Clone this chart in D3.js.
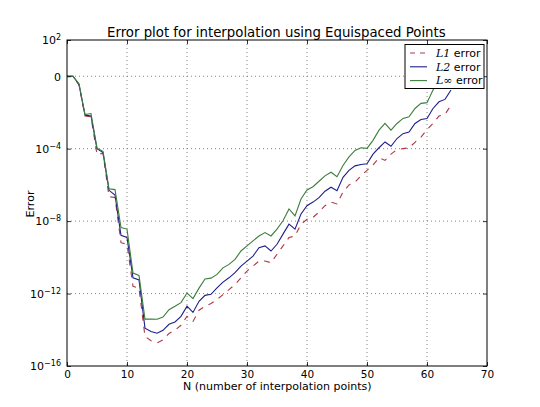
<!DOCTYPE html>
<html>
<head>
<meta charset="utf-8">
<script src="https://cdn.jsdelivr.net/npm/d3@7"></script>
<style>
  body { margin: 0; background: #fff; }
  text { font-family: "DejaVu Sans", sans-serif; }
</style>
</head>
<body>
<svg id="chart"></svg>
<script>
// N values, and log10 of each error
var nPoints = d3.range(0, 65);

var l1Log = [0, 0, -0.48, -2.2, -2.24, -4.33, -4.25, -6.65, -6.7, -9.19,
  -9.28, -11.6, -11.7, -14.37, -14.6, -14.72, -14.56, -14.2, -14.02, -13.75,
  -13.26, -13.54, -12.92, -12.7, -12.55, -12.33, -12.06, -11.78, -11.5, -11.13,
  -10.76, -10.48, -10.21, -10.2, -10.3, -9.83, -9.37, -8.91, -8.82, -8.17,
  -7.9, -7.8, -7.5, -7.15, -6.95, -7.05, -6.4, -6.0, -5.85, -5.5,
  -5.2, -4.9, -4.5, -4.65, -4.3, -4.05, -4.0, -3.95, -3.65, -3.36,
  -2.95, -2.6, -2.2, -2.1, -1.6];

var l2Log = [0, 0, -0.45, -2.15, -2.19, -4.0, -4.22, -6.3, -6.56, -8.78,
  -8.9, -11.13, -11.25, -13.91, -14.09, -14.19, -14.03, -13.7, -13.57, -13.26,
  -12.7, -13.04, -12.43, -12.1, -12.04, -11.69, -11.37, -11.13, -10.85, -10.48,
  -10.21, -9.93, -9.47, -9.37, -9.65, -9.28, -8.72, -8.17, -8.44, -7.61,
  -7.15, -6.95, -6.7, -6.35, -6.13, -6.32, -5.58, -5.2, -4.95, -4.87,
  -4.83, -4.3, -3.95, -3.63, -3.87, -3.44, -3.17, -3.08, -2.61, -2.39,
  -2.33, -1.78, -1.41, -1.28, -0.76];

var linfLog = [0, 0, -0.42, -2.12, -2.06, -3.97, -4.15, -6.22, -6.26, -8.36,
  -8.44, -10.87, -11.0, -13.41, -13.41, -13.42, -13.3, -12.89, -12.7, -12.5,
  -11.97, -12.28, -11.7, -11.2, -11.15, -10.94, -10.58, -10.39, -10.11, -9.65,
  -9.37, -9.09, -8.82, -8.63, -8.82, -8.44, -7.98, -7.33, -7.71, -6.78,
  -6.28, -6.1, -5.8, -5.5, -5.3, -5.55, -4.93, -4.45, -4.1, -3.95,
  -3.98, -3.54, -2.98, -2.6, -2.98, -2.61, -2.33, -2.24, -1.78, -1.5,
  -1.46, -0.76, -0.3, 0.05, 0.5];

var xTicks = [0, 10, 20, 30, 40, 50, 60, 70];
var yTicks = [1e2, 1e0, 1e-4, 1e-8, 1e-12, 1e-16];
var yTickLabels = [["10", "2"], ["0", ""], ["10", "\u22124"], ["10", "\u22128"], ["10", "\u221212"], ["10", "\u221216"]];

var seriesNames = ["1", "2", "\u221e"];
var seriesColors = ["#b03848", "#1f1f8a", "#3d7d3d"];

/* size of the picture and of the axes box */
var svgWidth = 540, svgHeight = 407;
var margin = {top: 40, right: 53, bottom: 41, left: 67};
var width = svgWidth - margin.left - margin.right;
var height = svgHeight - margin.top - margin.bottom;

var svg = d3.select("#chart")
    .attr("width", svgWidth)
    .attr("height", svgHeight);

var g = svg.append("g")
    .attr("transform", "translate(" + margin.left + "," + margin.top + ")");

var x = d3.scaleLinear().domain([0, 70]).range([0, width]);
var y = d3.scaleLog().domain([1e-16, 1e2]).range([height, 0]);

// dotted grid
g.selectAll(".vgrid")
    .data(xTicks.slice(1, -1))
    .enter()
    .append("line")
    .attr("x1", function(d) { return x(d); })
    .attr("x2", function(d) { return x(d); })
    .attr("y1", 0)
    .attr("y2", height)
    .attr("stroke", "#666")
    .attr("stroke-width", 0.8)
    .attr("stroke-dasharray", "1,3");

g.selectAll(".hgrid")
    .data(yTicks.slice(1, -1))
    .enter()
    .append("line")
    .attr("x1", 0)
    .attr("x2", width)
    .attr("y1", function(d) { return y(d); })
    .attr("y2", function(d) { return y(d); })
    .attr("stroke", "#666")
    .attr("stroke-width", 0.8)
    .attr("stroke-dasharray", "1,3");

// curves
var allSeries = [l1Log, l2Log, linfLog];
var line = d3.line()
    .x(function(d, i) { return x(nPoints[i]); })
    .y(function(d) { return y(Math.pow(10, d)); });

g.append("clipPath").attr("id", "clip")
    .append("rect").attr("width", width).attr("height", height);

g.append("g")
    .attr("clip-path", "url(#clip)")
    .selectAll("path")
    .data(allSeries)
    .enter()
    .append("path")
    .attr("d", line)
    .attr("fill", "none")
    .attr("stroke", function(d, i) { return seriesColors[i]; })
    .attr("stroke-width", 1.1)
    .attr("stroke-dasharray", function(d, i) { return i === 0 ? "6,6" : null; });

// axes with inward ticks on all four sides
var tickLen = 4;
var xAxisB = d3.axisBottom(x).tickValues(xTicks).tickSizeInner(-tickLen).tickSizeOuter(0).tickPadding(5);
var xAxisT = d3.axisTop(x).tickValues(xTicks).tickSizeInner(-tickLen).tickSizeOuter(0).tickFormat("");
var yAxisL = d3.axisLeft(y).tickValues(yTicks).tickSizeInner(-tickLen).tickSizeOuter(0).tickFormat("");
var yAxisR = d3.axisRight(y).tickValues(yTicks).tickSizeInner(-tickLen).tickSizeOuter(0).tickFormat("");

var gx = g.append("g").attr("transform", "translate(0," + height + ")").call(xAxisB);
g.append("g").call(xAxisT);
var gy = g.append("g").call(yAxisL);
g.append("g").attr("transform", "translate(" + width + ",0)").call(yAxisR);

g.selectAll(".domain").remove();
g.selectAll(".tick line").attr("stroke", "#000").attr("stroke-width", 0.8);

gx.selectAll(".tick text")
    .attr("font-family", "DejaVu Sans, sans-serif")
    .attr("font-size", 10.5)
    .attr("fill", "#000");

// log labels drawn as 10 with superscript
gy.selectAll(".tick").each(function(d, i) {
    var t = d3.select(this).append("text")
        .attr("x", -6)
        .attr("dy", "0.35em")
        .attr("text-anchor", "end")
        .attr("font-family", "DejaVu Serif, serif")
        .attr("font-size", 11)
        .attr("fill", "#000");
    var lab = yTickLabels[i];
    t.append("tspan").text(lab[0]);
    if (lab[1] !== "") {
        t.append("tspan")
            .attr("font-size", 8)
            .attr("dy", "-0.55em")
            .text(lab[1]);
    }
});

// frame
g.append("rect")
    .attr("width", width)
    .attr("height", height)
    .attr("fill", "none")
    .attr("stroke", "#000")
    .attr("stroke-width", 1);

// shrink a text until it is as wide as in the reference
function fitWidth(sel, target) {
    var fs = +sel.attr("font-size");
    var w = sel.node().getComputedTextLength();
    if (w > 0) sel.attr("font-size", fs * target / w);
}

// titles
var title = svg.append("text")
    .attr("x", 107)
    .attr("y", 37)
    .attr("font-size", 14)
    .text("Error plot for interpolation using Equispaced Points");
fitWidth(title, 339);

var xlab = svg.append("text")
    .attr("x", 183)
    .attr("y", 389.5)
    .attr("font-size", 11)
    .text("N (number of interpolation points)");
fitWidth(xlab, 189);

svg.append("text")
    .attr("transform", "translate(33.5," + 204 + ") rotate(-90)")
    .attr("text-anchor", "middle")
    .attr("font-size", 11)
    .text("Error");

// legend
var legend = svg.append("g").attr("transform", "translate(405,44.5)");
legend.append("rect")
    .attr("width", 79)
    .attr("height", 44)
    .attr("fill", "#fff")
    .attr("stroke", "#000")
    .attr("stroke-width", 1);

var item = legend.selectAll(".item")
    .data(seriesNames)
    .enter()
    .append("g")
    .attr("transform", function(d, i) { return "translate(0," + (8.5 + i * 13.8) + ")"; });

item.append("line")
    .attr("x1", 5)
    .attr("x2", 22)
    .attr("stroke", function(d, i) { return seriesColors[i]; })
    .attr("stroke-width", 1.1)
    .attr("stroke-dasharray", function(d, i) { return i === 0 ? "5,5" : null; });

var lt = item.append("text")
    .attr("x", 31)
    .attr("dy", "0.35em")
    .attr("font-size", 11);
lt.append("tspan")
    .attr("font-family", "DejaVu Serif, serif")
    .attr("font-style", "italic")
    .text(function(d) { return "L" + d; });
lt.append("tspan").text(" error");
</script>
</body>
</html>
